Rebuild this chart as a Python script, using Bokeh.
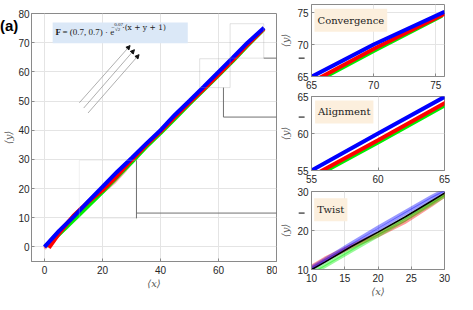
from bokeh.plotting import figure
from bokeh.layouts import row, column
from bokeh.models import Arrow, NormalHead, Label, BoxAnnotation, FixedTicker, Range1d, Div
from bokeh.embed import file_html
from bokeh.resources import INLINE

# ---------------- data ----------------
# mean trajectories (thick lines)
blue_x = [0, 5, 10, 15, 20, 25, 30, 35, 40, 45, 50, 55, 60, 65, 70, 75.7]
blue_y = [0, 5.5, 10.3, 15.5, 20.6, 25.7, 30.4, 35.3, 40.0, 45.3, 50.1, 55.0, 60.0, 64.95, 70.0, 75.1]
red_x = [1.5, 5, 10, 15, 20, 25, 30, 35, 40, 45, 50, 55, 60, 65, 70, 75.7]
red_y = [-0.3, 4.6, 10.7, 15.3, 19.4, 24.3, 29.7, 34.8, 39.5, 44.6, 49.5, 54.2, 59.1, 64.1, 69.3, 74.8]
green_x = [0.5, 5, 10, 15, 20, 25, 30, 35, 40, 45, 50, 55, 60, 65, 70, 75.5]
green_y = [0.3, 4.3, 9.2, 14.0, 18.9, 24.0, 29.0, 34.2, 39.0, 44.0, 49.0, 53.9, 58.8, 63.8, 69.0, 74.5]

# ensemble runs in the twist region
run_x = [0, 4, 8, 12, 16, 20, 24, 28, 32]
blue_run1 = [0.0, 4.5, 8.6, 12.6, 16.8, 20.9, 24.8, 28.7, 32.2]
blue_run2 = [0.2, 4.1, 8.1, 12.1, 16.2, 20.2, 24.2, 28.1, 31.8]
red_run1 = [-0.2, 4.4, 8.8, 12.9, 16.2, 19.2, 22.6, 27.0, 31.6]
red_run2 = [-0.6, 3.9, 8.3, 12.3, 15.7, 18.6, 22.0, 26.4, 31.2]
green_run1 = [0.4, 3.6, 7.3, 11.2, 15.2, 19.2, 23.2, 27.2, 31.2]
green_run2 = [0.0, 3.2, 6.9, 10.7, 14.7, 18.6, 22.6, 26.7, 30.8]
black_mean = [0.0, 4.0, 8.0, 11.9, 15.9, 19.6, 23.4, 27.5, 31.6]

# field arrows
arrow_x0 = [12.0, 13.5, 15.0]
arrow_y0 = [49.4, 47.6, 45.9]
arrow_x1 = [29.5, 31.0, 32.6]
arrow_y1 = [69.0, 67.6, 65.9]

main_xticks = [0, 20, 40, 60, 80]
main_yticks = [0, 10, 20, 30, 40, 50, 60, 70, 80]

BLUE, RED, GREEN = "#0000ff", "#ff0000", "#00ee00"
AX = "#8a8a8a"
TXT = "#262626"


def style(p, xticks, yticks, xlabel, ylabel, ystand=3, ylab_stand=3):
    p.xaxis.ticker = FixedTicker(ticks=xticks)
    p.yaxis.ticker = FixedTicker(ticks=yticks)
    p.xaxis.axis_label = xlabel
    p.yaxis.axis_label = ylabel
    for ax in p.axis:
        ax.axis_line_color = AX
        ax.major_tick_line_color = AX
        ax.major_tick_in = 3
        ax.major_tick_out = 0
        ax.minor_tick_line_color = None
        ax.major_label_text_font = "Liberation Sans"
        ax.major_label_text_font_size = "10px"
        ax.major_label_text_color = TXT
        ax.axis_label_text_font = "DejaVu Serif"
        ax.axis_label_text_font_style = "italic"
        ax.axis_label_text_font_size = "10px"
        ax.axis_label_text_color = "#555555"
    p.xaxis.major_label_standoff = 4
    p.yaxis.major_label_standoff = ystand
    p.xaxis.axis_label_standoff = 1
    p.yaxis.axis_label_standoff = ylab_stand
    p.grid.grid_line_color = "#e4e4e4"
    p.outline_line_color = AX
    p.outline_line_alpha = 1
    p.background_fill_color = "white"
    p.border_fill_color = "white"


# ---------------- main plot ----------------
MX0, MX1, MY0, MY1 = -4.5, 80, -5, 80
M_TOP, M_FH, M_BOT = 13, 248, 33
p = figure(width=277, height=M_TOP + M_FH + M_BOT, min_border_left=29, min_border_right=1,
           min_border_top=M_TOP, min_border_bottom=M_BOT,
           x_range=Range1d(MX0, MX1), y_range=Range1d(MY0, MY1),
           output_backend="svg", toolbar_location=None)
style(p, main_xticks, main_yticks, "⟨x⟩", "⟨y⟩", ystand=2, ylab_stand=1)

for ys, c in [(red_run1, RED), (red_run2, RED), (green_run1, GREEN), (green_run2, GREEN),
              (blue_run1, BLUE), (blue_run2, BLUE)]:
    p.line(run_x, ys, line_color=c, line_width=3, line_alpha=0.35)
p.line(green_x, green_y, line_color=GREEN, line_width=4)
p.line(red_x, red_y, line_color=RED, line_width=4)
p.line(blue_x, blue_y, line_color=BLUE, line_width=4)

# zoom boxes
BOXC = "#a0a0a0"
p.add_layout(BoxAnnotation(left=64.0, right=75.6, bottom=64.7, top=76.5, fill_alpha=0,
                           line_color=BOXC, line_width=1))
p.add_layout(BoxAnnotation(left=53.5, right=64.0, bottom=54.6, top=64.5, fill_alpha=0,
                           line_color=BOXC, line_width=1))
p.add_layout(BoxAnnotation(left=12.0, right=31.7, bottom=9.8, top=29.7, fill_alpha=0,
                           line_color="#d0d0d0", line_width=1))

CONC = "#707070"
conv_y_main, align_y_main, twist_y_main = 64.7, 44.5, 11.6
segs = [
    (75.6, conv_y_main, 100, conv_y_main),
    (61.7, 54.6, 61.7, align_y_main),
    (61.7, align_y_main, 100, align_y_main),
    (31.7, 29.7, 31.7, 9.8),
    (31.7, twist_y_main, 100, twist_y_main),
]
for xs, ys, xe, ye in segs:
    p.add_layout(Arrow(end=None, x_start=xs, y_start=ys, x_end=xe, y_end=ye,
                       line_color=CONC, line_width=1))

# field arrows
for a, b, c, d in zip(arrow_x0, arrow_y0, arrow_x1, arrow_y1):
    p.add_layout(Arrow(end=NormalHead(size=4, fill_color="#111111", line_color="#111111"),
                       x_start=a, y_start=b, x_end=c, y_end=d,
                       line_color="#8c8c8c", line_width=0.7))

# formula box
p.add_layout(BoxAnnotation(left=2.8, right=49.4, bottom=69.8, top=76.9,
                           fill_color="#dbe8f7", fill_alpha=1, line_color=None))
p.add_layout(Label(x=3.8, y=73.6, text="F", text_font="Liberation Serif", text_font_style="bold",
                   text_font_size="9px", text_baseline="middle", text_color="#222222"))
p.add_layout(Label(x=6.2, y=73.6, text="= (0.7, 0.7) · e", text_font="Liberation Serif",
                   text_font_size="9px", text_baseline="middle", text_color="#222222"))
p.add_layout(Label(x=23.0, y=75.3, text="−", text_font="Liberation Serif",
                   text_font_size="6px", text_baseline="middle", text_color="#222222"))
p.add_layout(Label(x=24.0, y=76.2, text="0.07", text_font="Liberation Serif",
                   text_font_size="5px", text_baseline="middle", text_color="#222222"))
p.add_layout(Label(x=24.3, y=74.4, text="√2", text_font="Liberation Serif",
                   text_font_size="5px", text_baseline="middle", text_color="#222222"))
p.add_layout(Label(x=26.8, y=75.3, text="·(x + y + 1)", text_font="DejaVu Serif",
                   text_font_size="7.5px", text_baseline="middle", text_color="#222222"))


def main_page_y(y):
    return M_TOP + (MY1 - y) / (MY1 - MY0) * M_FH


# ---------------- insets ----------------
def inset(xr, yr, xticks, yticks, page_top, fh, bottom, name, label_xy, conn_y_main, xlabel,
          twist=False):
    q = figure(width=180, height=4 + fh + bottom, min_border_left=32, min_border_right=13,
               min_border_top=4, min_border_bottom=bottom,
               x_range=Range1d(*xr), y_range=Range1d(*yr),
               output_backend="svg", toolbar_location=None)
    style(q, xticks, yticks, xlabel, "⟨y⟩")
    if twist:
        for ys, c in [(red_run1, RED), (red_run2, RED), (green_run1, GREEN), (green_run2, GREEN),
                      (blue_run1, BLUE), (blue_run2, BLUE)]:
            q.line(run_x, ys, line_color=c, line_width=3, line_alpha=0.4)
        q.line(run_x, black_mean, line_color="black", line_width=1.5)
    else:
        q.line(green_x, green_y, line_color=GREEN, line_width=4)
        q.line(red_x, red_y, line_color=RED, line_width=4)
        q.line(blue_x, blue_y, line_color=BLUE, line_width=4)
    q.add_layout(Label(x=label_xy[0], y=label_xy[1], text=name, text_font="DejaVu Serif",
                       text_font_size="10px", text_align="left", text_baseline="top",
                       text_color="#222222", background_fill_color="#fcefdd",
                       background_fill_alpha=1, padding=(3, 6)))
    # connector end + diamond marker
    top = page_top + 4
    py = main_page_y(conn_y_main)
    yc = yr[1] - (py - top) / fh * (yr[1] - yr[0])
    dx = (xr[1] - xr[0]) / 135.0
    xm = xr[0] - 10 * dx
    q.add_layout(Arrow(end=None, x_start=xr[0] - 60 * dx, y_start=yc, x_end=xm, y_end=yc,
                       line_color=CONC, line_width=1))
    q.add_layout(Arrow(start=NormalHead(size=3, fill_color="black", line_color="black", line_width=1),
                       end=NormalHead(size=3, fill_color="black", line_color="black", line_width=1),
                       x_start=xm - 3 * dx, y_start=yc, x_end=xm + 3 * dx, y_end=yc,
                       line_color="black", line_width=1))
    return q


conv = inset((65, 75.7), (65, 76.25), [65, 70, 75], [65, 70, 75], 0, 72, 16,
             "Convergence", (65.24, 75.58), conv_y_main, None)
align = inset((55, 65), (55, 65), [55, 60, 65], [55, 60, 65], 92, 74, 17,
              "Alignment", (55.27, 64.46), align_y_main, None)
twist = inset((10, 30), (10, 30), [10, 15, 20, 25, 30], [10, 20, 30], 187, 78, 31,
              "Twist", (10.4, 28.28), twist_y_main, "⟨x⟩", twist=True)

# panel tag "(a)" overlaid in the top-left corner
tag = Div(text="(a)", width=26, height=20,
          styles={"position": "absolute", "left": "0px", "top": "17px", "margin": "0px",
                  "font-family": "'Liberation Sans', Arial, sans-serif", "font-size": "15px",
                  "font-weight": "bold", "color": "black", "line-height": "18px",
                  "z-index": "10"})

layout = row(p, column(conv, align, twist, spacing=0), tag, spacing=0,
             styles={"position": "absolute", "left": "0px", "top": "0px"})

open("out.html", "w").write(file_html(layout, INLINE))
